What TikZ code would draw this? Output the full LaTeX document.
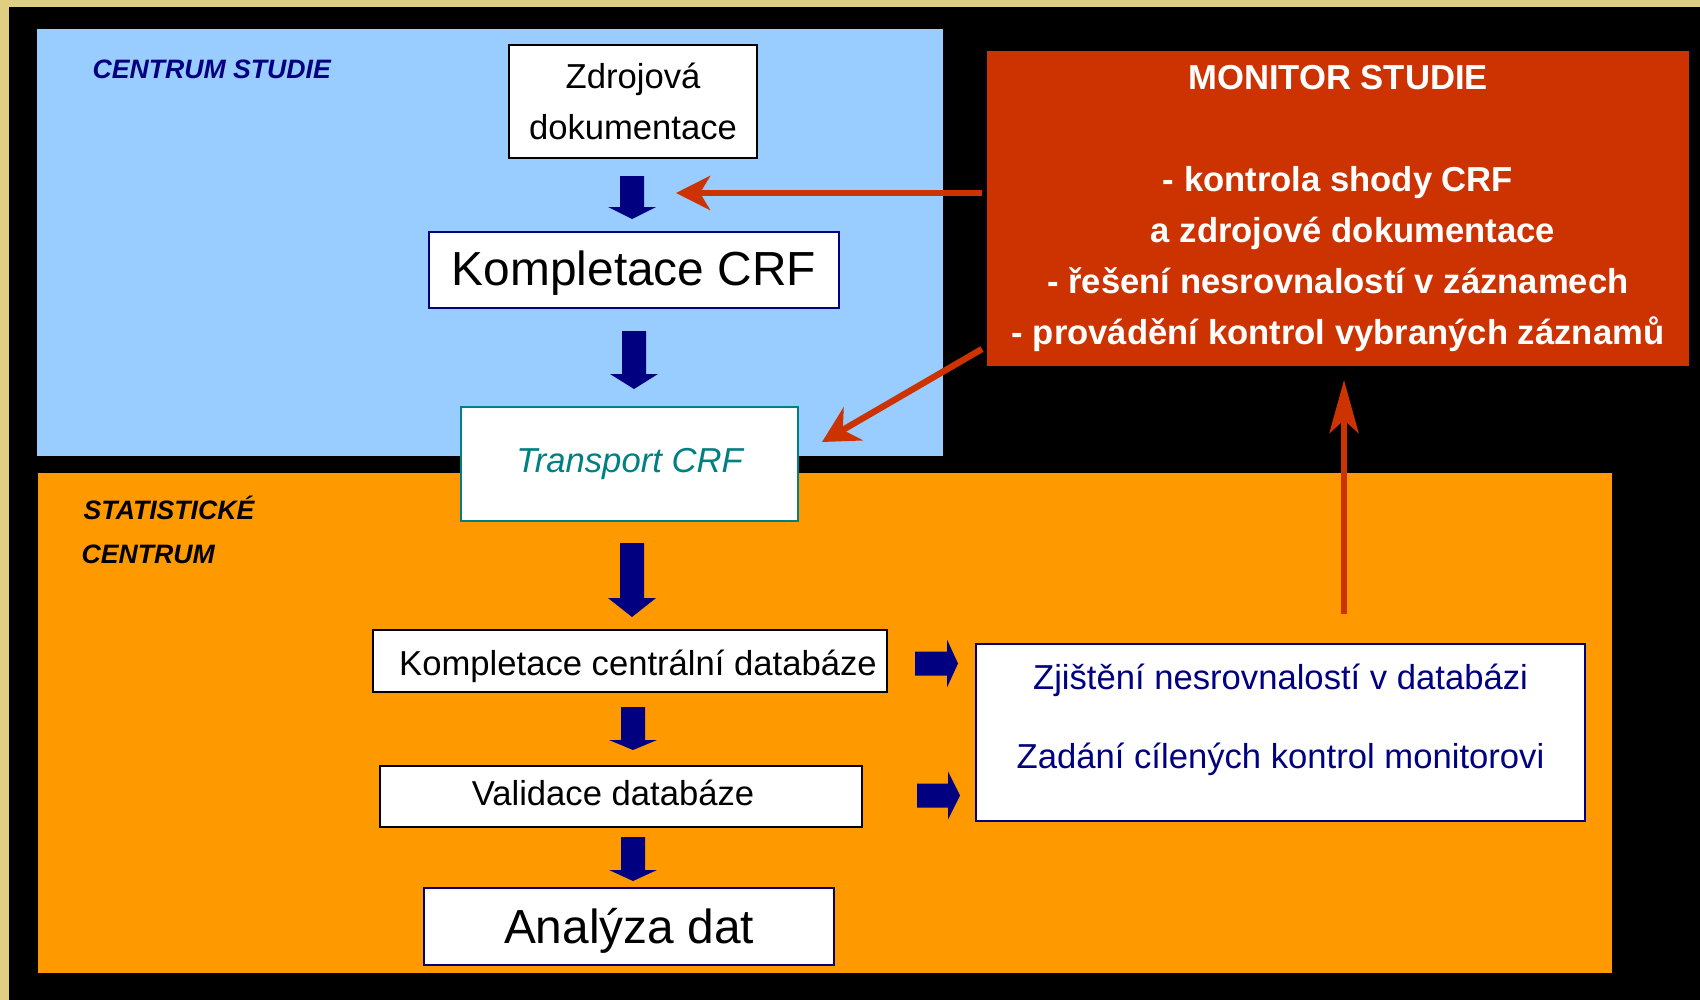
\documentclass[tikz,border=0pt]{standalone}
\usepackage{fontspec}
\setmainfont{Liberation Sans}
\usetikzlibrary{arrows.meta}

\definecolor{studyblue}{HTML}{99CCFF}
\definecolor{statorange}{HTML}{FF9900}
\definecolor{monred}{HTML}{CC3300}
\definecolor{navy}{HTML}{000080}
\definecolor{tealtext}{HTML}{008080}
\definecolor{goldframe}{HTML}{E0CF82}

\tikzset{
  box/.style={draw, fill=white, line width=0.6pt, inner sep=0pt, align=center},
  normal/.style={font=\fontsize{9.85}{14.5}\selectfont},
  big/.style={font=\fontsize{13.6}{16}\selectfont},
  area label/.style={anchor=base west, inner sep=0pt, font=\fontsize{7.57}{9}\selectfont\bfseries\itshape},
  redarrow/.style={monred, line width=1.8pt}
}

% block arrows: x, top, neck, tip
\newcommand{\dnarrow}[4]{%
  \fill[navy] (#1-12,#2) -- (#1+12,#2) -- (#1+12,#3) -- (#1+24,#3) -- (#1,#4) -- (#1-24,#3) -- (#1-12,#3) -- cycle;}
% left, y, neck, tip
\newcommand{\rtarrow}[4]{%
  \fill[navy] (#1,#2-12) -- (#3,#2-12) -- (#3,#2-24) -- (#4,#2) -- (#3,#2+24) -- (#3,#2+12) -- (#1,#2+12) -- cycle;}

\begin{document}
\begin{tikzpicture}[x=0.01cm, y=-0.01cm]
    \useasboundingbox (0,0) rectangle (1700,1000);
    % frame and areas
    \fill[goldframe] (0,0) rectangle (1700,1000);
    \fill[black] (9,7) rectangle (1700,1000);
    \fill[studyblue] (37,29) rectangle (943,456);
    \fill[statorange] (38,473) rectangle (1612,973);

    \node[area label, text=navy] (centrumlbl) at (92,78) {CENTRUM STUDIE};
    \node[area label] (statlbl) at (83,519) {STATISTICKÉ};
    \node[area label] (statlbl2) at (81,563) {CENTRUM};

    % monitor
    \node[fill=monred, minimum width=7.02cm, minimum height=3.14cm, inner sep=0pt, align=center,
          text=white, font=\fontsize{9.85}{14.45}\selectfont\bfseries] (monitor) at (1338,208.5)
          {MONITOR STUDIE\\[14.45pt]
           - kontrola shody CRF\\
           \hspace*{8.5pt}a zdrojové dokumentace\\
           - řešení nesrovnalostí v záznamech\\
           - provádění kontrol vybraných záznamů};

    % flow
    \node[box, normal, minimum width=2.48cm, minimum height=1.13cm] (zdroj) at (633,101.5) {Zdrojová\\dokumentace};
    \node[box, big, draw=navy, text height=0.36cm, text depth=0.06cm,
          minimum width=4.10cm, minimum height=0.76cm] (kompl) at (634,270) {Kompletace CRF};
    \node[box, draw=tealtext, text=tealtext, font=\fontsize{9.85}{14.5}\selectfont\itshape,
          text height=0.26cm, text depth=0.10cm,
          minimum width=3.37cm, minimum height=1.14cm] (transport) at (629.5,464) {Transport CRF};
    \node[box, normal, text height=0.30cm, text depth=0.02cm,
          minimum width=5.14cm, minimum height=0.62cm] (centdb) at (630,661) {\hspace*{0.16cm}Kompletace centrální databáze};
    \node[box, normal, text height=0.26cm, text depth=0.08cm,
          minimum width=4.82cm, minimum height=0.61cm] (valid) at (621,796.5) {Validace databáze\hspace*{0.16cm}};
    \node[box, big, draw=navy, text height=0.36cm, text depth=0.03cm,
          minimum width=4.10cm, minimum height=0.77cm] (analyza) at (629,926.5) {Analýza dat};

    \node[box, draw=navy, minimum width=6.09cm, minimum height=1.77cm] (zjist) at (1280.5,732.5) {};
    \node[normal, text=navy, align=center, inner sep=0pt] (zjisttext) at ([yshift=0.125cm]zjist.center)
          {Zjištění nesrovnalostí v databázi\\[8pt]Zadání cílených kontrol monitorovi};

    \dnarrow{632}{176}{207}{219}
    \dnarrow{634}{331}{374}{389}
    \dnarrow{632}{543}{598}{617}
    \dnarrow{633}{707}{740}{750}
    \dnarrow{633}{837}{870}{881}
    \rtarrow{915}{663.5}{947}{958}
    \rtarrow{917}{795.5}{948}{960}

    % monitor arrows
    \coordinate (crfin) at (676,193);
    \coordinate (monout1) at (982,193);
    \coordinate (transin) at (822,442);
    \coordinate (monout2) at (982,349);
    \coordinate (zjistout) at (1344,614);
    \coordinate (monin) at (1344,380);
    \draw[redarrow, -{Stealth[length=0.34cm, width=0.34cm, inset=0.1cm]}] (monout1) -- (crfin);
    \draw[redarrow, -{Stealth[length=0.36cm, width=0.38cm, inset=0.12cm]}] (monout2) -- (transin);
    \draw[redarrow, -{Stealth[length=0.53cm, width=0.29cm, inset=0.13cm]}] (zjistout) -- (monin);
\end{tikzpicture}
\end{document}
